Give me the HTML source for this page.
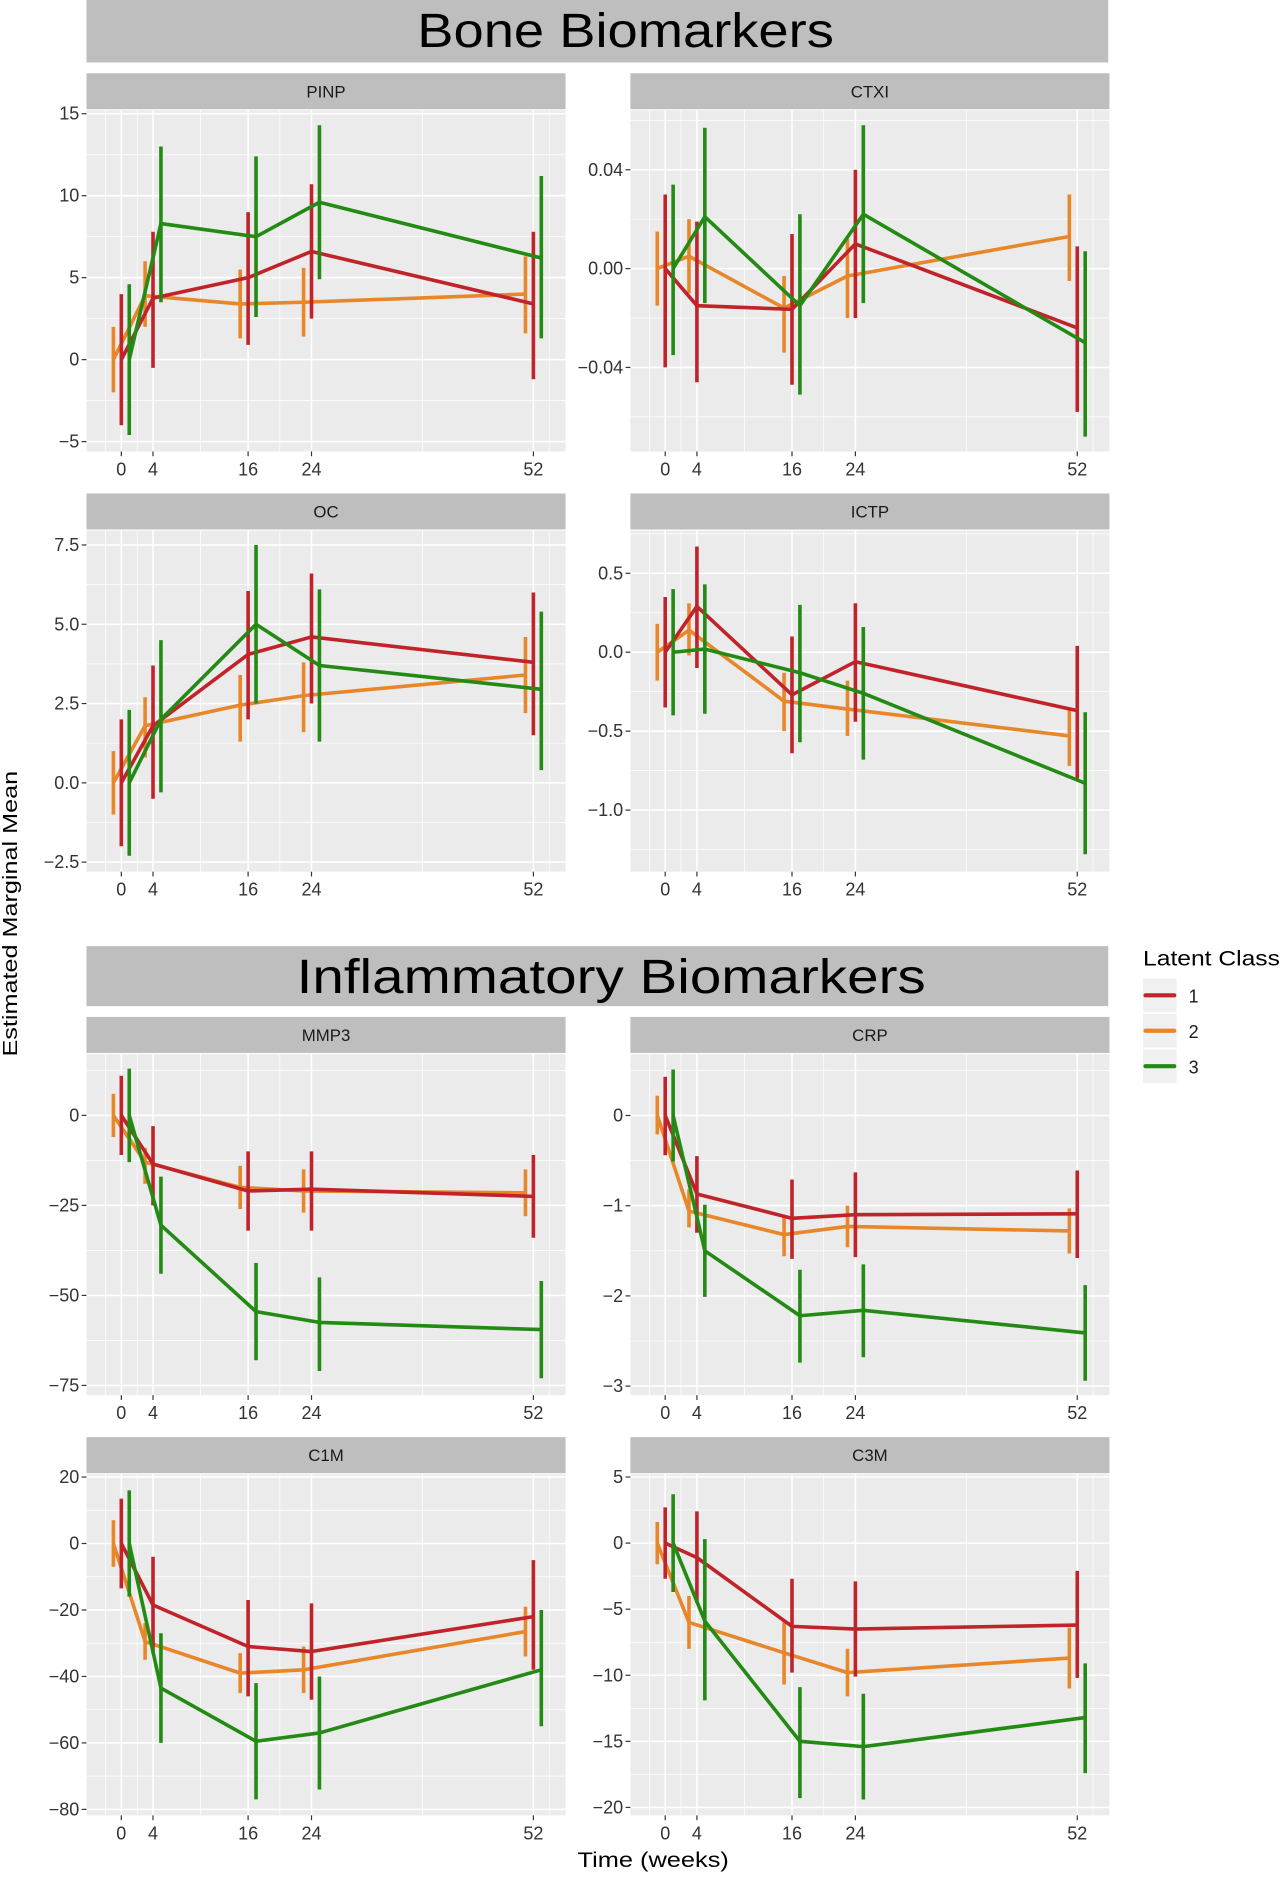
<!DOCTYPE html>
<html><head><meta charset="utf-8"><style>
html,body{margin:0;padding:0;background:#fff;}
svg text{font-family:"Liberation Sans","DejaVu Sans",sans-serif;}
</style></head><body>
<svg id="chart" width="1280" height="1882" viewBox="0 0 1066 1567.5" xmlns="http://www.w3.org/2000/svg">
<rect x="0" y="0" width="1066" height="1567.5" fill="#fff"/>
<g><rect x="72" y="0" width="851" height="52" fill="#bebebe"/><text x="521" y="39" font-size="40" text-anchor="middle" fill="#000" textLength="347" lengthAdjust="spacingAndGlyphs">Bone Biomarkers</text></g>
<g><rect x="72" y="788" width="851" height="50" fill="#bebebe"/><text x="509" y="827" font-size="40" text-anchor="middle" fill="#000" textLength="524" lengthAdjust="spacingAndGlyphs">Inflammatory Biomarkers</text></g>
<text x="14" y="761" font-size="17" text-anchor="middle" transform="rotate(-90 14 761)" textLength="238" lengthAdjust="spacingAndGlyphs">Estimated Marginal Mean</text>
<text x="544" y="1555" font-size="18" text-anchor="middle" textLength="126" lengthAdjust="spacingAndGlyphs">Time (weeks)</text>
<g id="legend">
<text x="952" y="804" font-size="18" textLength="114" lengthAdjust="spacingAndGlyphs">Latent Class</text>
</g>
</svg>
<script>
const weeks = [0, 4, 16, 24, 52];
const classLabels = ["1", "2", "3"];
const classColors = ["#c0232a", "#e8862a", "#238a14"];
const majorX = [0, 4, 16, 24, 52];
const minorX = [-2, 2, 10, 20, 38, 54];

const pinpMean = [[0,3.75,5,6.6,3.4],[0,3.9,3.4,3.5,4.0],[0,8.3,7.5,9.6,6.2]];
const pinpLo = [[-4,-0.5,0.9,2.5,-1.2],[-2,2,1.3,1.4,1.6],[-4.6,3.5,2.6,4.9,1.3]];
const pinpHi = [[4,7.8,9,10.7,7.8],[2,6,5.5,5.6,6.3],[4.6,13,12.4,14.3,11.2]];
const pinpTicks = [-5,0,5,10,15];

const ctxiMean = [[0,-0.015,-0.0165,0.01,-0.024],[0,0.005,-0.016,-0.003,0.013],[0,0.021,-0.015,0.022,-0.030]];
const ctxiLo = [[-0.04,-0.046,-0.047,-0.02,-0.058],[-0.015,-0.01,-0.034,-0.02,-0.005],[-0.035,-0.014,-0.051,-0.014,-0.068]];
const ctxiHi = [[0.03,0.019,0.014,0.04,0.009],[0.015,0.02,-0.003,0.012,0.03],[0.034,0.057,0.022,0.058,0.007]];
const ctxiTicks = [-0.04,0,0.04];

const ocMean = [[0,1.8,4.05,4.6,3.8],[0,1.8,2.45,2.75,3.4],[0,2.0,5.0,3.7,2.95]];
const ocLo = [[-2,-0.5,2.0,2.5,1.5],[-1,0.8,1.3,1.6,2.2],[-2.3,-0.3,2.5,1.3,0.4]];
const ocHi = [[2,3.7,6.05,6.6,6.0],[1,2.7,3.4,3.8,4.6],[2.3,4.5,7.5,6.1,5.4]];
const ocTicks = [-2.5,0,2.5,5,7.5];

const ictpMean = [[0,0.29,-0.27,-0.06,-0.37],[0,0.14,-0.31,-0.36,-0.53],[0,0.02,-0.13,-0.26,-0.83]];
const ictpLo = [[-0.35,-0.1,-0.64,-0.44,-0.8],[-0.18,-0.02,-0.5,-0.53,-0.72],[-0.4,-0.39,-0.57,-0.68,-1.28]];
const ictpHi = [[0.35,0.67,0.1,0.31,0.04],[0.18,0.31,-0.13,-0.18,-0.35],[0.4,0.43,0.3,0.16,-0.38]];
const ictpTicks = [-1,-0.5,0,0.5];

const mmp3Mean = [[0,-13.5,-21,-20.5,-22.5],[0,-13,-20,-21,-21.5],[0,-30.5,-54.5,-57.5,-59.5]];
const mmp3Lo = [[-11,-25,-32,-32,-34],[-6,-19,-26,-27,-28],[-13,-44,-68,-71,-73]];
const mmp3Hi = [[11,-3,-10,-10,-11],[6,-9,-14,-15,-15],[13,-17,-41,-45,-46]];
const mmp3Ticks = [-75,-50,-25,0];

const crpMean = [[0,-0.87,-1.14,-1.10,-1.09],[0,-1.06,-1.32,-1.23,-1.28],[0,-1.5,-2.22,-2.16,-2.41]];
const crpLo = [[-0.44,-1.3,-1.59,-1.57,-1.58],[-0.21,-1.24,-1.56,-1.46,-1.53],[-0.51,-2.01,-2.74,-2.68,-2.94]];
const crpHi = [[0.43,-0.45,-0.71,-0.63,-0.61],[0.22,-0.82,-1.12,-1.0,-1.03],[0.51,-0.99,-1.71,-1.65,-1.88]];
const crpTicks = [-3,-2,-1,0];

const c1mMean = [[0,-18.5,-31,-32.5,-22],[0,-29.5,-39,-38,-26.5],[0,-43.5,-59.5,-57,-38]];
const c1mLo = [[-13.5,-33,-46,-47,-38],[-7,-35,-45,-45,-34],[-16,-60,-77,-74,-55]];
const c1mHi = [[13.5,-4,-17,-18,-5],[7,-24,-33,-31,-19],[16,-27,-42,-40,-20]];
const c1mTicks = [-80,-60,-40,-20,0,20];

const c3mMean = [[0,-1.1,-6.3,-6.5,-6.2],[0,-6,-8.3,-9.8,-8.7],[0,-5.9,-15,-15.4,-13.2]];
const c3mLo = [[-2.7,-4.5,-9.8,-10.1,-10.2],[-1.6,-8,-10.7,-11.6,-11],[-3.7,-11.9,-19.3,-19.4,-17.4]];
const c3mHi = [[2.7,2.4,-2.7,-2.9,-2.1],[1.6,-4,-6,-8,-6.4],[3.7,0.3,-10.9,-11.4,-9.1]];
const c3mTicks = [-20,-15,-10,-5,0,5];

const NS = "http://www.w3.org/2000/svg";
const svg = document.getElementById("chart");
function mk(tag, attrs, parent){ const e=document.createElementNS(NS,tag); for(const k in attrs) e.setAttribute(k,attrs[k]); (parent||svg).appendChild(e); return e; }

const panels = [
 {name:"PINP", key:"pinp", x:72, y:61, ymin:-5.6, ymax:15.2, mean:pinpMean, lo:pinpLo, hi:pinpHi, ticks:pinpTicks, fmt:v=>String(v)},
 {name:"CTXI", key:"ctxi", x:525, y:61, ymin:-0.074, ymax:0.064, mean:ctxiMean, lo:ctxiLo, hi:ctxiHi, ticks:ctxiTicks, fmt:v=>v.toFixed(2)},
 {name:"OC", key:"oc", x:72, y:411, ymin:-2.8, ymax:7.95, mean:ocMean, lo:ocLo, hi:ocHi, ticks:ocTicks, fmt:v=>v.toFixed(1)},
 {name:"ICTP", key:"ictp", x:525, y:411, ymin:-1.39, ymax:0.77, mean:ictpMean, lo:ictpLo, hi:ictpHi, ticks:ictpTicks, fmt:v=>v.toFixed(1)},
 {name:"MMP3", key:"mmp3", x:72, y:847, ymin:-77.7, ymax:17, mean:mmp3Mean, lo:mmp3Lo, hi:mmp3Hi, ticks:mmp3Ticks, fmt:v=>String(v)},
 {name:"CRP", key:"crp", x:525, y:847, ymin:-3.1, ymax:0.68, mean:crpMean, lo:crpLo, hi:crpHi, ticks:crpTicks, fmt:v=>String(v)},
 {name:"C1M", key:"c1m", x:72, y:1197, ymin:-81.8, ymax:20.8, mean:c1mMean, lo:c1mLo, hi:c1mHi, ticks:c1mTicks, fmt:v=>String(v)},
 {name:"C3M", key:"c3m", x:525, y:1197, ymin:-20.6, ymax:5.2, mean:c3mMean, lo:c3mLo, hi:c3mHi, ticks:c3mTicks, fmt:v=>String(v)}
];
const W=399, stripH=30, plotH=284;
const dodge=[0,-1,1];
function lbl(v){ return v<0 ? "\u2212"+String(v).slice(1) : v; }

panels.forEach(p=>{
  const g=mk("g",{});
  
  
  const strip=mk("rect",{x:p.x,y:p.y,width:W,height:stripH,fill:"#bebebe"},g);
  
  
  const st=mk("text",{x:p.x+W/2,y:p.y+20,"font-size":14,"text-anchor":"middle",fill:"#1a1a1a"},g);
  st.textContent=p.name;
  
  
  const top=p.y+stripH+1;
  const bg=mk("rect",{x:p.x,y:top,width:W,height:plotH,fill:"#ebebeb"},g);
  
  
  const xs=w=>p.x+29+(w)*6.6;
  const ys=v=>top+(p.ymax-v)/(p.ymax-p.ymin)*plotH;
  minorX.forEach(w=>mk("line",{x1:xs(w),x2:xs(w),y1:top,y2:top+plotH,stroke:"#fff","stroke-width":0.6},g));
  for(let i=0;i<p.ticks.length-1;i++){const m=(p.ticks[i]+p.ticks[i+1])/2; mk("line",{x1:p.x,x2:p.x+W,y1:ys(m),y2:ys(m),stroke:"#fff","stroke-width":0.6},g);}
  {const m=p.ticks[p.ticks.length-1]+(p.ticks[1]-p.ticks[0])/2; if(m<p.ymax) mk("line",{x1:p.x,x2:p.x+W,y1:ys(m),y2:ys(m),stroke:"#fff","stroke-width":0.6},g);}
  {const m=p.ticks[0]-(p.ticks[1]-p.ticks[0])/2; if(m>p.ymin) mk("line",{x1:p.x,x2:p.x+W,y1:ys(m),y2:ys(m),stroke:"#fff","stroke-width":0.6},g);}
  majorX.forEach(w=>{
    mk("line",{x1:xs(w),x2:xs(w),y1:top,y2:top+plotH,stroke:"#fff","stroke-width":1.3},g);
    mk("line",{x1:xs(w),x2:xs(w),y1:top+plotH,y2:top+plotH+4,stroke:"#333","stroke-width":1},g);
    const t=mk("text",{x:xs(w),y:top+plotH+20,"font-size":15,"text-anchor":"middle",fill:"#333"},g);
    t.textContent=w;
    
    
  });
  p.ticks.forEach(v=>{
    mk("line",{x1:p.x,x2:p.x+W,y1:ys(v),y2:ys(v),stroke:"#fff","stroke-width":1.3},g);
    mk("line",{x1:p.x-4,x2:p.x,y1:ys(v),y2:ys(v),stroke:"#333","stroke-width":1},g);
    const t=mk("text",{x:p.x-6,y:ys(v)+5,"font-size":15,"text-anchor":"end",fill:"#333"},g);
    t.textContent=lbl(p.fmt(v));
    
    
  });
  [1,0,2].forEach(c=>{
    const pts=weeks.map((w,i)=>xs(w+dodge[c])+","+ys(p.mean[c][i])).join(" ");
    const line=mk("polyline",{points:pts,fill:"none",stroke:classColors[c],"stroke-width":3,"stroke-linejoin":"round"},g);
    
    
    weeks.forEach((w,i)=>{
      const eb=mk("line",{x1:xs(w+dodge[c]),x2:xs(w+dodge[c]),y1:ys(p.lo[c][i]),y2:ys(p.hi[c][i]),stroke:classColors[c],"stroke-width":3},g);
      
      
    });
  });
});

const legend=document.getElementById("legend");
classLabels.forEach((l,i)=>{
  const y=815+i*29.5;
  const e=mk("g",{},legend);
  
  
  mk("rect",{x:952,y:y,width:28,height:28,fill:"#f0f0f0"},e);
  mk("line",{x1:954,x2:978,y1:y+14,y2:y+14,stroke:classColors[i],"stroke-width":3.5,"stroke-linecap":"round"},e);
  const t=mk("text",{x:990,y:y+20,"font-size":15,fill:"#1a1a1a"},e);
  t.textContent=l;
});
</script>
</body></html>
